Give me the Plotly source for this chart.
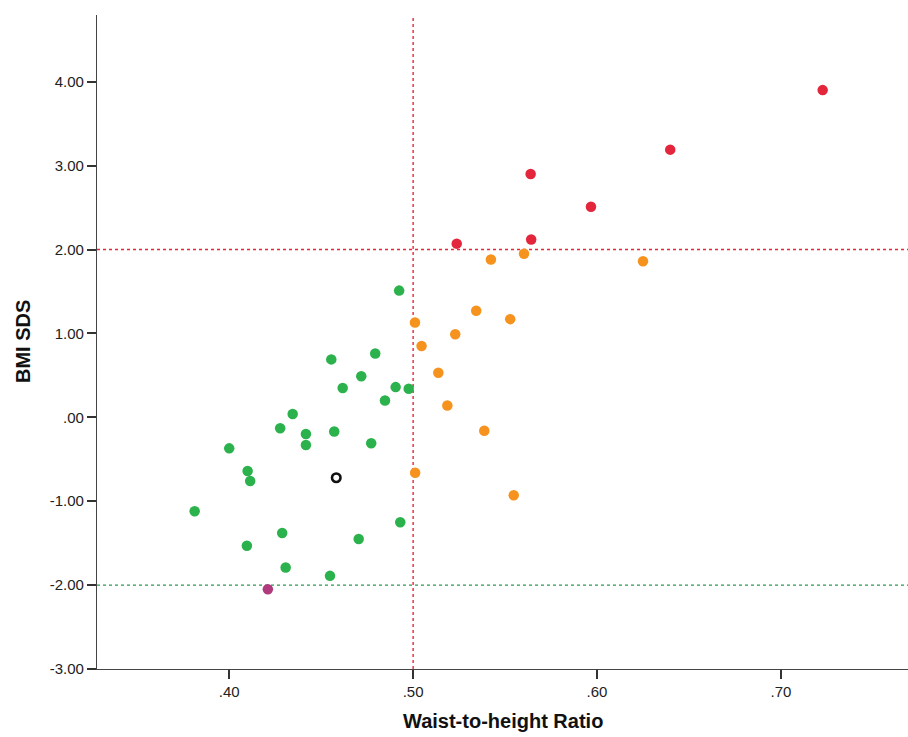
import plotly.graph_objects as go

# Waist-to-height ratio vs BMI SDS, grouped by category
red_x = [0.7227, 0.6398, 0.5639, 0.5967, 0.5642, 0.5237]
red_y = [3.90, 3.19, 2.90, 2.51, 2.12, 2.07]

orange_x = [0.5423, 0.5603, 0.6250, 0.5343, 0.5528, 0.5010, 0.5229,
            0.5046, 0.5137, 0.5186, 0.5387, 0.5011, 0.5547]
orange_y = [1.88, 1.95, 1.86, 1.27, 1.17, 1.13, 0.99,
            0.85, 0.53, 0.14, -0.16, -0.66, -0.93]

green_x = [0.4924, 0.4555, 0.4794, 0.4718, 0.4617, 0.4905, 0.4976, 0.4847,
           0.4345, 0.4277, 0.4417, 0.4417, 0.4571, 0.4772, 0.4000, 0.4100,
           0.4114, 0.3812, 0.4288, 0.4096, 0.4704, 0.4930, 0.4307, 0.4548]
green_y = [1.51, 0.69, 0.76, 0.49, 0.35, 0.36, 0.34, 0.20,
           0.04, -0.13, -0.20, -0.33, -0.17, -0.31, -0.37, -0.64,
           -0.76, -1.12, -1.38, -1.53, -1.45, -1.25, -1.79, -1.89]

magenta_x = [0.4210]
magenta_y = [-2.05]

open_x = [0.4582]
open_y = [-0.72]

x_ticks = [0.40, 0.50, 0.60, 0.70]
x_tick_labels = [".40", ".50", ".60", ".70"]
y_ticks = [4, 3, 2, 1, 0, -1, -2, -3]
y_tick_labels = ["4.00", "3.00", "2.00", "1.00", ".00", "-1.00", "-2.00", "-3.00"]

x_cut = 0.50
y_upper = 2.0
y_lower = -2.0

FONT = "Liberation Sans, Arial, sans-serif"

fig = go.Figure()

for xs, ys, col in [(green_x, green_y, "#2bb24c"),
                    (orange_x, orange_y, "#f5931e"),
                    (red_x, red_y, "#e3263b"),
                    (magenta_x, magenta_y, "#b03a7e")]:
    fig.add_trace(go.Scatter(x=xs, y=ys, mode="markers",
                             marker=dict(size=10.5, color=col, line=dict(width=0)),
                             showlegend=False))

fig.add_trace(go.Scatter(x=open_x, y=open_y, mode="markers",
                         marker=dict(symbol="circle-open", size=8.5, color="#111111",
                                     line=dict(width=2.6, color="#111111")),
                         showlegend=False))

# Reference lines
red_line = dict(color="#e8263a", width=1.4, dash="3px,3px")
green_line = dict(color="#2a9a50", width=1.4, dash="3px,3px")
fig.add_shape(type="line", xref="x", yref="paper", x0=x_cut, x1=x_cut, y0=0, y1=1,
              line=red_line, layer="below")
fig.add_shape(type="line", xref="paper", yref="y", x0=0, x1=1, y0=y_upper, y1=y_upper,
              line=red_line, layer="below")
fig.add_shape(type="line", xref="paper", yref="y", x0=0, x1=1, y0=y_lower, y1=y_lower,
              line=green_line, layer="below")

# Axis titles
fig.add_annotation(text="<b>Waist-to-height Ratio</b>", xref="paper", yref="paper",
                   x=0.5, y=0, xanchor="center", yanchor="middle", yshift=-52,
                   showarrow=False, font=dict(family=FONT, size=20, color="#111111"))
fig.add_annotation(text="<b>BMI SDS</b>", xref="paper", yref="paper",
                   x=0, y=0.5, xanchor="center", yanchor="middle", xshift=-74,
                   textangle=-90, showarrow=False,
                   font=dict(family=FONT, size=20, color="#111111"))

fig.update_layout(
    width=908, height=737,
    margin=dict(l=97, r=0, t=15, b=68),
    paper_bgcolor="white", plot_bgcolor="white",
    font=dict(family=FONT, color="#222222"),
    xaxis=dict(range=[0.3281, 0.7691], tickvals=x_ticks, ticktext=x_tick_labels,
               showgrid=False, zeroline=False, showline=True, linecolor="#444444",
               linewidth=1.2, ticks="outside", ticklen=9, tickwidth=1.5,
               tickcolor="#333333", tickfont=dict(family=FONT, size=15, color="#222222")),
    yaxis=dict(range=[-3, 4.795], tickvals=y_ticks, ticktext=y_tick_labels,
               showgrid=False, zeroline=False, showline=True, linecolor="#444444",
               linewidth=1.2, ticks="outside", ticklen=9, tickwidth=1.5,
               tickcolor="#333333", tickfont=dict(family=FONT, size=15, color="#222222")),
)

fig.write_html("out.html")
